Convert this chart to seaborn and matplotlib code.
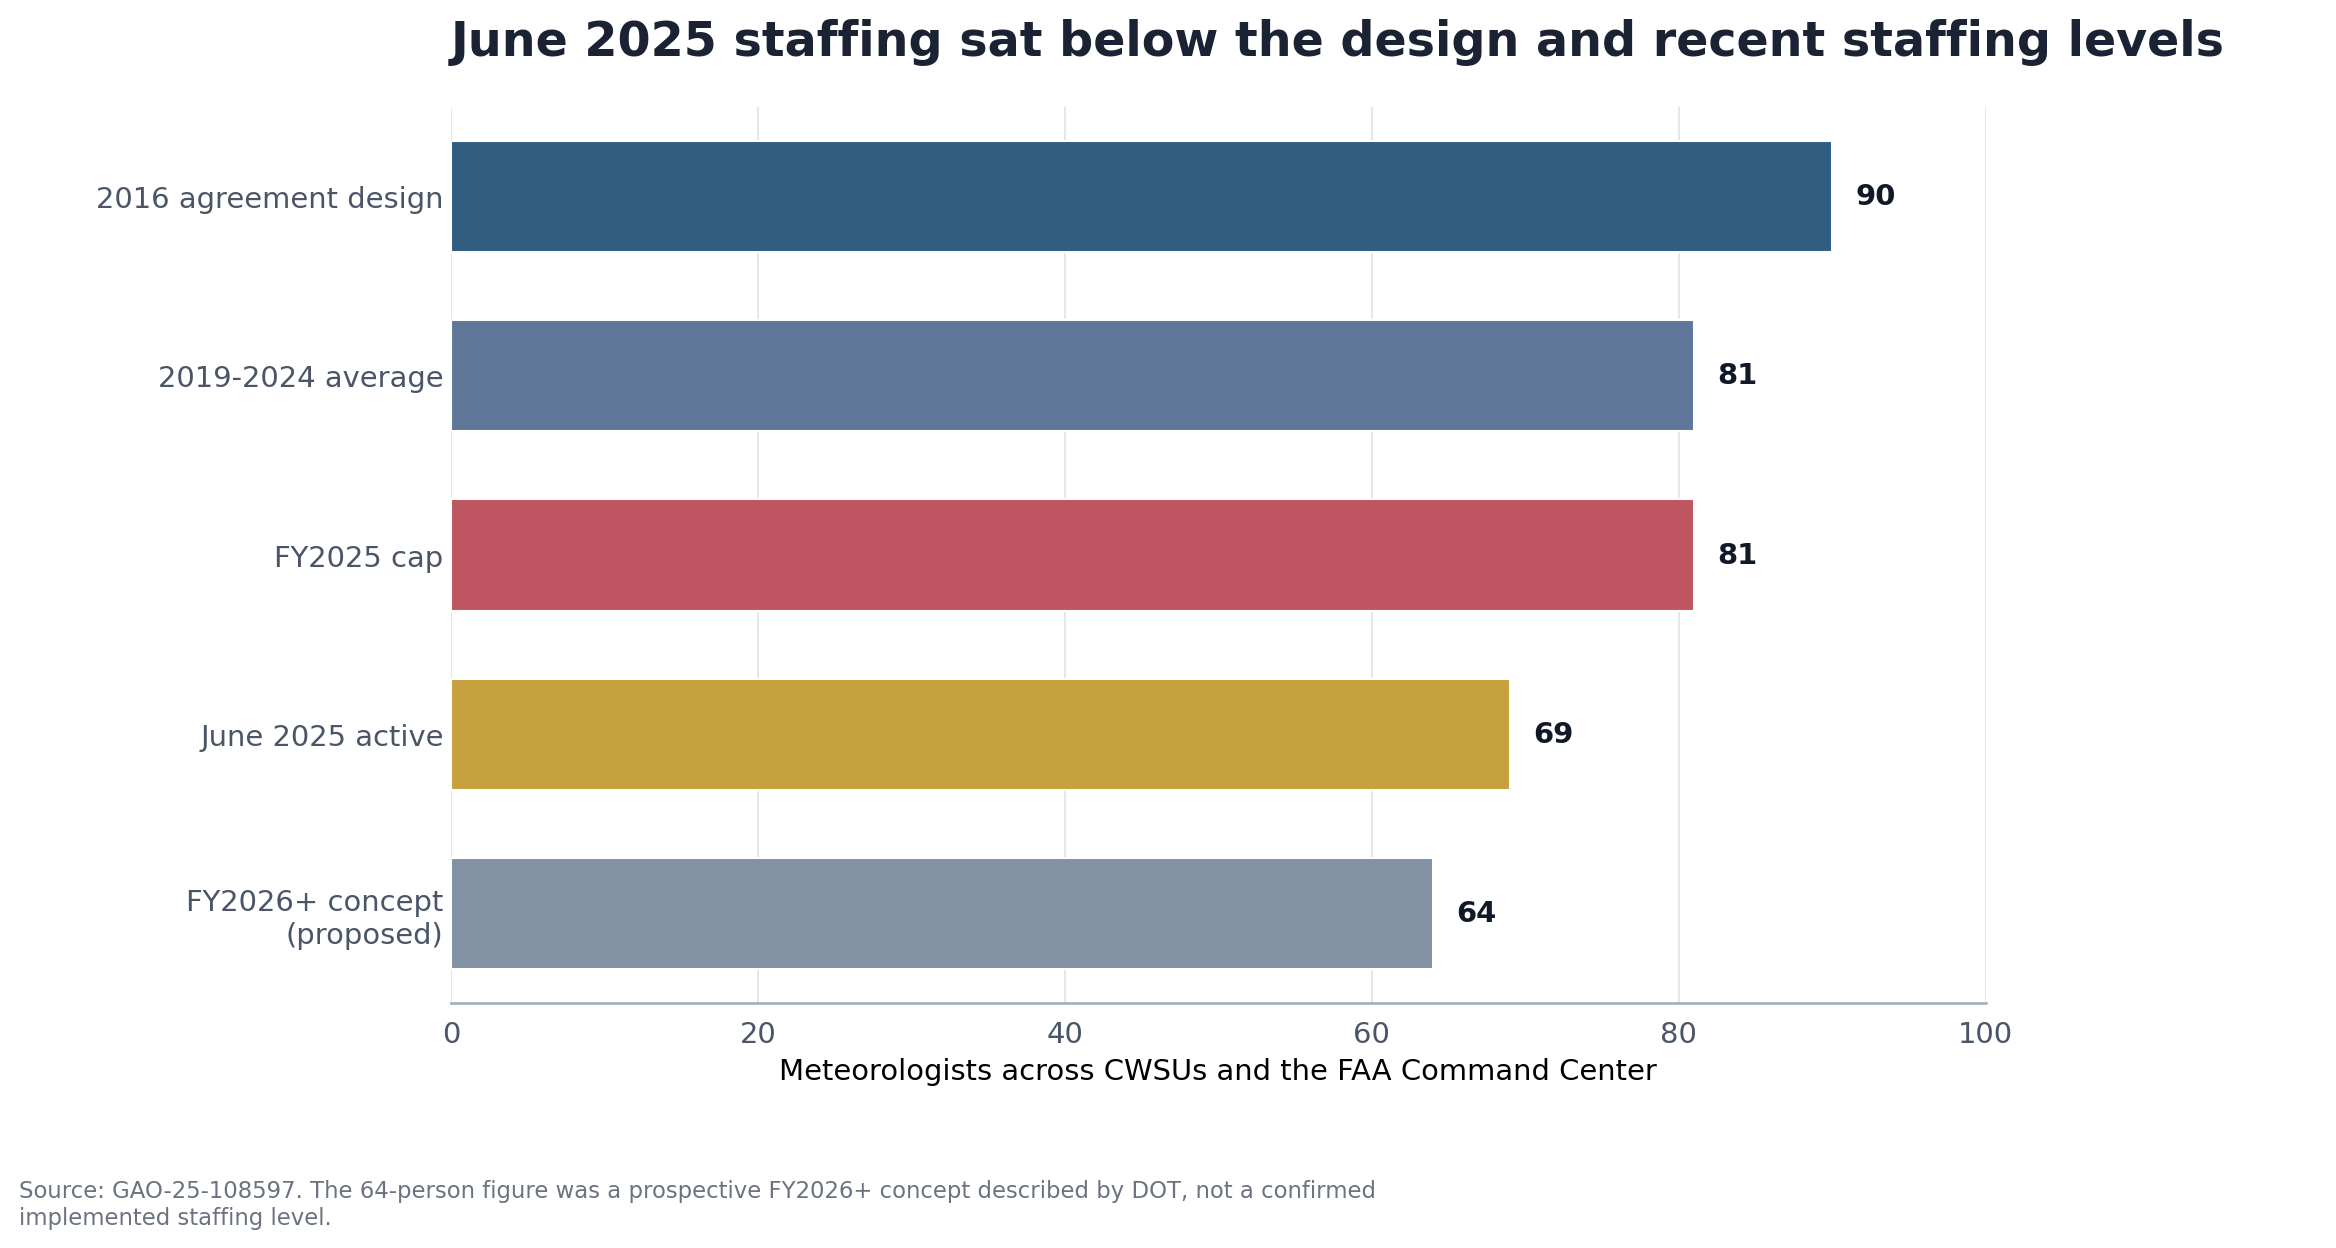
import matplotlib
matplotlib.use("Agg")
import matplotlib.pyplot as plt
import seaborn as sns
import pandas as pd

categories = ["2016 agreement design", "2019-2024 average", "FY2025 cap", "June 2025 active", "FY2026+ concept\n(proposed)"]
values = [90, 81, 81, 69, 64]
colors = ["#315e80", "#5f7798", "#be5560", "#c6a13e", "#8391a4"]

sns.set_theme(style="whitegrid")
plt.rcParams['font.family'] = ['DejaVu Sans']
fig = plt.figure(figsize=(15.68, 8.38), dpi=149)
ax = fig.add_axes([0.193, 0.196, 0.657, 0.718])
df = pd.DataFrame({"cat": categories, "val": values})
sns.barplot(data=df, x="val", y="cat", hue="cat", palette=colors, legend=False, width=0.62, ax=ax, saturation=1)
for i, v in enumerate(values):
    ax.text(v + 1.5, i, str(v), va="center", ha="left", fontsize=14, fontweight="bold", color="#111827")
ax.set_xlim(0, 100)
ax.set_xticks([0, 20, 40, 60, 80, 100])
ax.set_xlabel("Meteorologists across CWSUs and the FAA Command Center", fontsize=14, color="black")
ax.set_ylabel("")
ax.tick_params(axis="both", labelsize=14, colors="#4b5563", length=5)
ax.tick_params(axis="y", length=0)
for lab in ax.get_yticklabels() + ax.get_xticklabels():
    lab.set_color("#4a5568")
ax.grid(axis="y", visible=False)
ax.grid(axis="x", color="#e5e7eb", linewidth=1)
for s in ["top", "right", "left"]:
    ax.spines[s].set_visible(False)
ax.spines["bottom"].set_color("#a0aec0")
ax.tick_params(axis="x", color="#a0aec0", length=5)
fig.text(0.193, 0.966, "June 2025 staffing sat below the design and recent staffing levels",
         fontsize=23, fontweight="bold", color="#1a2233", ha="left", va="center")
fig.text(0.008, 0.035, "Source: GAO-25-108597. The 64-person figure was a prospective FY2026+ concept described by DOT, not a confirmed\nimplemented staffing level.",
         fontsize=11, color="#6b7280", ha="left", va="center")
fig.savefig("out.png", dpi=149)
